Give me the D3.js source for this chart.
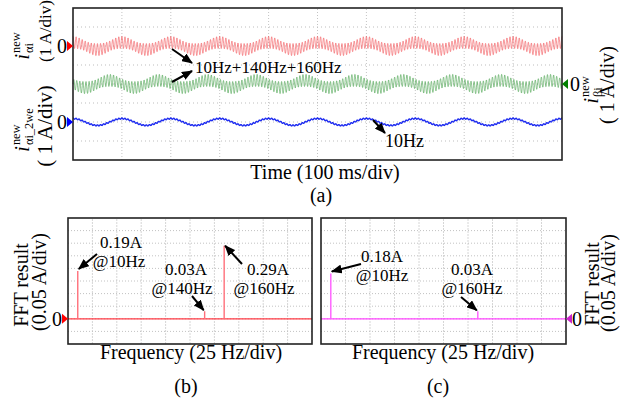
<!DOCTYPE html>
<html>
<head>
<meta charset="utf-8">
<script src="https://d3js.org/d3.v7.min.js"></script>
<style>
  html, body { margin: 0; padding: 0; background: #fff; }
  svg { display: block; font-family: "Liberation Serif", "Times New Roman", serif; }
</style>
</head>
<body>
<svg id="chart" width="620" height="402"></svg>
<script>
// ---- values ----
// panel (a): 10 div x 100 ms, 8 div x 1 A
const timeDomain = [0, 1];
const timeTicks = d3.range(0, 1.0001, 0.1);
const ampTicks = d3.range(-4, 4.0001, 1);
// harmonic content of each trace: Hz, A, degrees
const alphaFreq = [10, 140, 160];
const alphaAmp = [0.19, 0.03, 0.29];
const alphaPhase = [0, 0, 0];
const betaFreq = [10, 140, 160];
const betaAmp = [0.19, 0.03, 0.29];
const betaPhase = [90, 90, -90];
const alpha2Freq = [10, 160];
const alpha2Amp = [0.18, 0.03];
const alpha2Phase = [0, 0];
// panels (b), (c): 25 Hz/div, 0.05 A/div
const fftTicksX = d3.range(0, 250.001, 25);
const fftTicksY = d3.range(-0.1, 0.4001, 0.05);
const fftBFreq = [10, 140, 160];
const fftBAmp = [0.19, 0.03, 0.29];
const fftCFreq = [10, 160];
const fftCAmp = [0.18, 0.03];

const svg = d3.select("#chart");

// arrow head
svg.append("defs").append("marker")
  .attr("id", "ah")
  .attr("markerUnits", "userSpaceOnUse")
  .attr("markerWidth", 11).attr("markerHeight", 9)
  .attr("refX", 10).attr("refY", 4.5)
  .attr("orient", "auto")
  .append("path").attr("d", "M0,0 L11,4.5 L0,9 Z").attr("fill", "#000");

function arrow(x0, y0, x1, y1) {
  svg.append("line")
    .attr("x1", x0).attr("y1", y0).attr("x2", x1).attr("y2", y1)
    .attr("stroke", "#000").attr("stroke-width", 2)
    .attr("marker-end", "url(#ah)");
}

function txt(x, y, s, size, anchor) {
  return svg.append("text")
    .attr("x", x).attr("y", y)
    .attr("font-size", size)
    .attr("text-anchor", anchor || "middle")
    .attr("fill", "#000")
    .text(s);
}

// rotated plain line of text, centred on cy, baseline at screen x = bx
function vtext(bx, cy, s, size) {
  svg.append("g").attr("transform", `translate(${bx},${cy}) rotate(-90)`)
    .append("text").attr("font-size", size).attr("text-anchor", "middle").text(s);
}

// rotated i with stacked super / subscript
function vmath(bx, cy, base, sup, sub, size) {
  const g = svg.append("g").attr("transform", `translate(${bx},${cy}) rotate(-90)`);
  const b = g.append("text").attr("font-size", size).attr("font-style", "italic").text(base);
  const p = g.append("text").attr("font-size", size * 0.62).attr("y", -size * 0.45).text(sup);
  const q = g.append("text").attr("font-size", size * 0.62).attr("y", size * 0.22).text(sub);
  const bw = b.node().getComputedTextLength() + 1;
  const w = bw + Math.max(p.node().getComputedTextLength(), q.node().getComputedTextLength());
  const x0 = -w / 2;
  b.attr("x", x0);
  p.attr("x", x0 + bw);
  q.attr("x", x0 + bw);
}

function tri(x, y, dir, color) {
  const d = dir > 0
    ? `M${x - 6},${y - 5} L${x},${y} L${x - 6},${y + 5} Z`
    : `M${x + 6},${y - 5} L${x},${y} L${x + 6},${y + 5} Z`;
  svg.append("path").attr("d", d).attr("fill", color);
}

function gridLines(g, x, y, xt, yt, vDash, hDash, vCol, hCol) {
  const [y0, y1] = y.range();
  const [x0, x1] = x.range();
  g.append("g").selectAll("line").data(xt.slice(1, -1)).join("line")
    .attr("x1", d => x(d)).attr("x2", d => x(d))
    .attr("y1", y0).attr("y2", y1)
    .attr("stroke", vCol).attr("stroke-width", 1).attr("stroke-dasharray", vDash);
  g.append("g").selectAll("line").data(yt.slice(1, -1)).join("line")
    .attr("y1", d => y(d)).attr("y2", d => y(d))
    .attr("x1", x0).attr("x2", x1)
    .attr("stroke", hCol).attr("stroke-width", 1).attr("stroke-dasharray", hDash);
}

function box(x, y) {
  const [x0, x1] = x.range(), [y0, y1] = y.range();
  svg.append("rect")
    .attr("x", x0).attr("y", y1).attr("width", x1 - x0).attr("height", y0 - y1)
    .attr("fill", "none").attr("stroke", "#222").attr("stroke-width", 1.6);
}

function trace(freq, amp, phase) {
  const n = 4000;
  return d3.range(n + 1).map(k => {
    const t = timeDomain[0] + (timeDomain[1] - timeDomain[0]) * k / n;
    let v = 0;
    freq.forEach((f, j) => {
      v += amp[j] * Math.cos(2 * Math.PI * f * t + phase[j] * Math.PI / 180);
    });
    return { t, v };
  });
}

// ---------------- panel (a) ----------------
const xA = d3.scaleLinear().domain(timeDomain).range([73, 562]);
const yA = d3.scaleLinear().domain([-4, 4]).range([160, 8]);
const gA = svg.append("g");
gridLines(gA, xA, yA, timeTicks, ampTicks, "1,2", "1,3", "#c4c4c4", "#bdbdbd");

const channels = [
  { data: trace(alphaFreq, alphaAmp, alphaPhase), offset: 2, color: "#f14e52", w: 0.6 },
  { data: trace(betaFreq, betaAmp, betaPhase), offset: 0, color: "#3f9e45", w: 0.6 },
  { data: trace(alpha2Freq, alpha2Amp, alpha2Phase), offset: -2, color: "#1e2cf0", w: 1.4 }
];
channels.forEach(c => {
  gA.append("path")
    .attr("fill", "none")
    .attr("stroke", c.color)
    .attr("stroke-width", c.w)
    .attr("d", d3.line().x(d => xA(d.t)).y(d => yA(d.v + c.offset))(c.data));
});
box(xA, yA);

// zero markers
tri(73, yA(2), 1, "#ff0000");
txt(67, yA(2) + 7, "0", 20, "end");
tri(73, yA(-2), 1, "#0000ff");
txt(67, yA(-2) + 7, "0", 20, "end");
tri(562, yA(0), -1, "#008000");
txt(570, yA(0) + 7, "0", 20, "start");

// y labels
vmath(29, 46, "i", "new", "αi", 20);
vtext(51, 31, "(1 A/div)", 17);
vmath(29, 130, "i", "new", "αi_2we", 20);
vtext(52, 126, "( 1 A/div)", 21);
vmath(598, 90, "i", "new", "βi", 20);
vtext(614, 85, "( 1 A/div)", 20);

txt(325, 179, "Time (100 ms/div)", 20);
txt(321, 202, "(a)", 20);

// annotations in (a)
arrow(172, 49, 192, 63);
arrow(172, 82, 192, 71);
txt(195, 73, "10Hz+140Hz+160Hz", 17, "start");
arrow(373, 120, 385, 133);
txt(385, 147, "10Hz", 18, "start");

// ---------------- panels (b) and (c) ----------------
function fftPanel(range, freq, amp, spikeCol, baseCol) {
  const x = d3.scaleLinear().domain([0, 250]).range(range);
  const y = d3.scaleLinear().domain([-0.1, 0.4]).range([344, 218]);
  const g = svg.append("g");
  gridLines(g, x, y, fftTicksX, fftTicksY, "2,1", "1,2", "#d6d6d6", "#c2c2c2");
  g.append("line")
    .attr("x1", x(0)).attr("x2", x(250)).attr("y1", y(0)).attr("y2", y(0))
    .attr("stroke", baseCol).attr("stroke-width", 1.3);
  g.selectAll(".spike").data(freq).join("line")
    .attr("x1", d => x(d)).attr("x2", d => x(d))
    .attr("y1", y(0)).attr("y2", (d, i) => y(amp[i]))
    .attr("stroke", spikeCol).attr("stroke-width", 1.4);
  box(x, y);
  return { x, y };
}

const pB = fftPanel([68, 312], fftBFreq, fftBAmp, "#ff6f7a", "#ff3a44");
const pC = fftPanel([321, 566], fftCFreq, fftCAmp, "#ff5cff", "#ff45ff");

tri(68, pB.y(0), 1, "#ff0000");
txt(62, pB.y(0) + 7, "0", 20, "end");
tri(566, pC.y(0), -1, "#cc22cc");
txt(572, pC.y(0) + 7, "0", 20, "start");

vtext(28, 285, "FFT result", 20);
vtext(46, 282, "(0.05 A/div)", 20);
vtext(599, 284, "FFT result", 20);
vtext(615, 283, "(0.05 A/div)", 20);

txt(191, 359, "Frequency (25 Hz/div)", 20);
txt(443, 359, "Frequency (25 Hz/div)", 20);
txt(186, 393, "(b)", 20);
txt(438, 393, "(c)", 20);

// annotations in (b)
arrow(97, 254, pB.x(10) + 1, pB.y(0.19) - 2);
txt(121, 248, "0.19A", 17);
txt(119, 267, "@10Hz", 17);
arrow(192, 296, pB.x(140) - 1, pB.y(0.03) - 1);
txt(186, 275, "0.03A", 17);
txt(182, 294, "@140Hz", 17);
arrow(242, 264, pB.x(160) + 1, pB.y(0.29));
txt(268, 275, "0.29A", 17);
txt(264, 294, "@160Hz", 17);

// annotations in (c)
arrow(361, 264, pC.x(10) + 1, pC.y(0.18) - 2);
txt(382, 262, "0.18A", 17);
txt(382, 281, "@10Hz", 17);
arrow(461, 297, pC.x(160) - 1, pC.y(0.03) - 1);
txt(472, 275, "0.03A", 17);
txt(472, 294, "@160Hz", 17);
</script>
</body>
</html>
